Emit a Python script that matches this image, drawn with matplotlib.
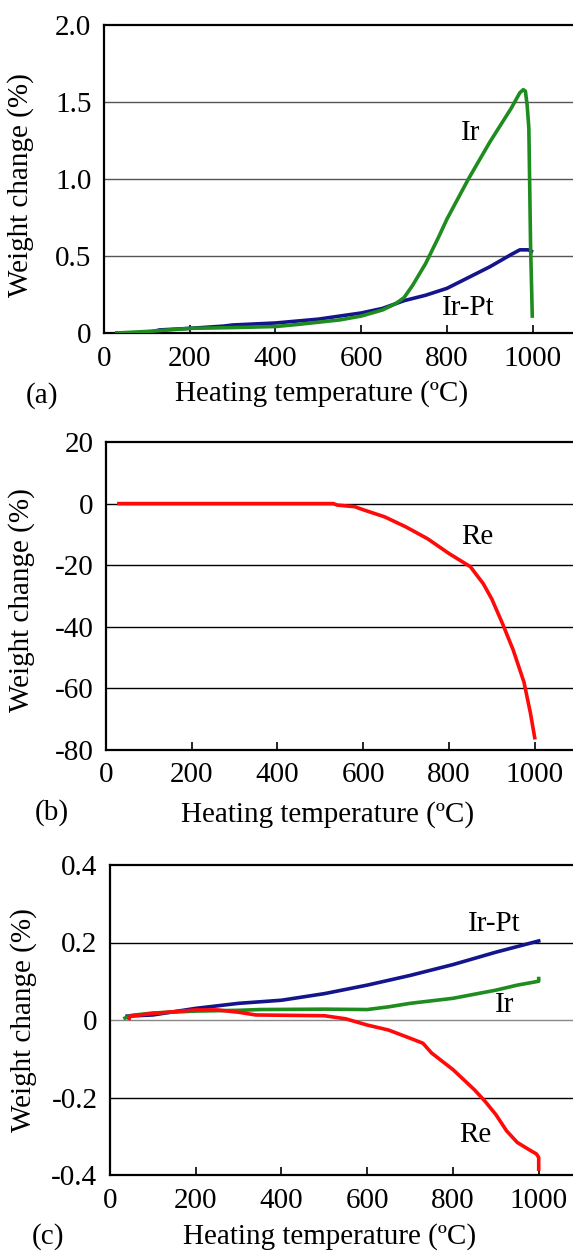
import matplotlib
matplotlib.use('Agg')
import matplotlib.pyplot as plt

plt.rcParams['font.family'] = ['Liberation Serif', 'DejaVu Serif']
plt.rcParams['font.size'] = 21

# (a) Ir and Ir-Pt, heating up to 1000 C
ir_a_t = [30, 100, 150, 200, 300, 400, 450, 500, 550, 600, 650, 680, 700, 720,
          750, 780, 800, 850, 900, 950, 970, 978, 983, 987, 991, 995, 999]
ir_a_w = [0.0, 0.01, 0.02, 0.03, 0.035, 0.042, 0.055, 0.07, 0.085, 0.11, 0.15,
          0.19, 0.23, 0.31, 0.45, 0.62, 0.74, 1.0, 1.24, 1.46, 1.56, 1.58,
          1.57, 1.48, 1.33, 0.57, 0.11]
irpt_a_t = [30, 100, 130, 200, 280, 300, 400, 500, 600, 650, 700, 750, 800,
            850, 900, 950, 970, 990, 997]
irpt_a_w = [0.0, 0.0, 0.02, 0.03, 0.045, 0.052, 0.065, 0.09, 0.13, 0.16, 0.21,
            0.245, 0.29, 0.36, 0.43, 0.51, 0.54, 0.54, 0.53]

# (b) Re
re_b_t = [30, 100, 200, 300, 400, 500, 530, 540, 580, 600, 650, 700, 750, 800,
          850, 880, 900, 925, 950, 975, 990, 1000]
re_b_w = [0, 0, 0, 0, 0, 0, 0, -0.5, -1, -2, -4.3, -7.6, -11.4, -16.2, -20.5,
          -26, -31, -39, -47.6, -58, -68, -76]

# (c) all three
irpt_c_t = [40, 100, 200, 300, 400, 500, 600, 700, 800, 900, 1000]
irpt_c_w = [0.01, 0.013, 0.03, 0.043, 0.051, 0.068, 0.09, 0.115, 0.143, 0.175,
            0.204]
ir_c_t = [35, 50, 100, 200, 300, 350, 500, 600, 650, 700, 800, 900, 950, 1000,
          1000]
ir_c_w = [0.005, 0.012, 0.018, 0.023, 0.025, 0.027, 0.028, 0.027, 0.034,
          0.043, 0.056, 0.077, 0.09, 0.1, 0.107]
re_c_t = [45, 47, 100, 200, 250, 300, 340, 500, 550, 600, 650, 700, 730, 750,
          800, 850, 875, 900, 925, 950, 975, 995, 1000, 1000]
re_c_w = [0.004, 0.01, 0.017, 0.026, 0.026, 0.02, 0.013, 0.011, 0.003,
          -0.013, -0.026, -0.047, -0.06, -0.085, -0.128, -0.18, -0.21, -0.244,
          -0.286, -0.316, -0.333, -0.346, -0.355, -0.385]

x_ticks = [0, 200, 400, 600, 800, 1000]

blue = '#14148c'
green = '#1e8c1e'
red = '#ff0a0a'
lw = 2.6

W, H = 573, 1252
fig = plt.figure(figsize=(W / 100, H / 100), dpi=100)


def px(x, y):
    return x / W, 1 - y / H


def make_ax(left, top, bottom, yticks, ylabels, grid, grid_colors,
            xlab_pos, ylab_pos, tag, tag_pos):
    ax = fig.add_axes([left / W, 1 - bottom / H, 0.823, (bottom - top) / H])
    ax.set_xlim(0, 1100)
    ax.set_ylim(yticks[0], yticks[-1])
    ax.set_xticks(x_ticks)
    ax.set_yticks(yticks)
    ax.set_yticklabels(ylabels)
    for g, c in zip(grid, grid_colors):
        ax.axhline(g, color=c, lw=1.0, zorder=1)
    ax.tick_params(axis='x', direction='in', length=6, width=1.2, pad=9)
    ax.tick_params(axis='y', length=0, pad=9)
    for s in ax.spines.values():
        s.set_linewidth(1.6)
    fig.text(*px(*xlab_pos), 'Heating temperature (ºC)', ha='center',
             va='center')
    fig.text(*px(*ylab_pos), 'Weight change (%)', ha='center', va='center',
             rotation=90)
    fig.text(*px(*tag_pos), tag, ha='center', va='center')
    return ax


ax1 = make_ax(104, 25, 333, [0, 0.5, 1.0, 1.5, 2.0],
              ['0', '0.5', '1.0', '1.5', '2.0'],
              [0.5, 1.0, 1.5], ['#555555'] * 3,
              (322, 394), (21, 185), '(a)', (42, 396))
ax1.plot(irpt_a_t, irpt_a_w, color=blue, lw=lw, zorder=3)
ax1.plot(ir_a_t, ir_a_w, color=green, lw=lw, zorder=4)
ax1.text(855, 1.30, 'Ir', ha='center', va='center')
ax1.text(850, 0.16, 'Ir-Pt', ha='center', va='center')

ax2 = make_ax(106, 442, 750, [-80, -60, -40, -20, 0, 20],
              ['-80', '-60', '-40', '-20', '0', '20'],
              [-60, -40, -20, 0], ['black'] * 4,
              (328, 815), (22, 600), '(b)', (52, 813))
ax2.plot(re_b_t, re_b_w, color=red, lw=lw, zorder=3)
ax2.text(867, -10.8, 'Re', ha='center', va='center')

ax3 = make_ax(110, 865, 1175, [-0.4, -0.2, 0, 0.2, 0.4],
              ['-0.4', '-0.2', '0', '0.2', '0.4'],
              [-0.2, 0, 0.2], ['black', '#888888', 'black'],
              (330, 1237), (24, 1020), '(c)', (48, 1237))
ax3.plot(irpt_c_t, irpt_c_w, color=blue, lw=lw, zorder=3)
ax3.plot(ir_c_t, ir_c_w, color=green, lw=lw, zorder=4)
ax3.plot(re_c_t, re_c_w, color=red, lw=lw, zorder=5)
ax3.text(896, 0.248, 'Ir-Pt', ha='center', va='center')
ax3.text(920, 0.038, 'Ir', ha='center', va='center')
ax3.text(853, -0.297, 'Re', ha='center', va='center')

fig.savefig('out.png', dpi=100)
